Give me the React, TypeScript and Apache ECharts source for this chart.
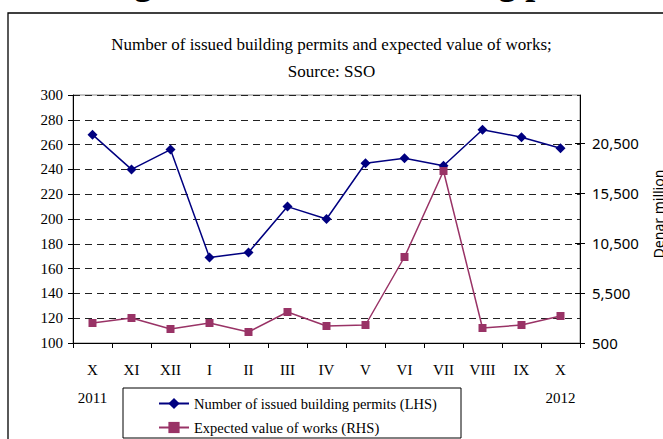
import React, { useEffect, useRef } from "react";
import * as echarts from "echarts";

const months = ["X", "XI", "XII", "I", "II", "III", "IV", "V", "VI", "VII", "VIII", "IX", "X"];
const years = ["2011", "", "", "", "", "", "", "", "", "", "", "", "2012"];
const permits = [268, 240, 256, 169, 173, 210, 200, 245, 249, 243, 272, 266, 257];
const worksValue = [2500, 3000, 1900, 2500, 1600, 3600, 2200, 2300, 9100, 17700, 2000, 2300, 3200];
const rightTicks = [500, 5500, 10500, 15500, 20500];

const titleText = "Number of issued building permits and expected value of works;";
const subTitleText = "Source: SSO";
const headingText = "4, Building and the issued building permits";

const serif = '"Liberation Serif", "Times New Roman", serif';
const sans = '"Noto Sans", "DejaVu Sans", sans-serif';

export default function App() {
  const ref = useRef<HTMLDivElement>(null);
  useEffect(() => {
    document.body.style.margin = "0";
    const chart = echarts.init(ref.current!, null, { renderer: "svg" });
    const categories = months.map((m, i) => (years[i] ? m + "\n" + years[i] : m));
    chart.setOption({
      animation: false,
      backgroundColor: "#fff",
      title: {
        text: titleText,
        subtext: subTitleText,
        left: "center",
        top: 36,
        padding: 0,
        itemGap: 10,
        textStyle: { fontFamily: serif, fontSize: 17, fontWeight: "normal", color: "#000" },
        subtextStyle: { fontFamily: serif, fontSize: 17, color: "#000" },
      },
      grid: {
        left: 73,
        right: 83,
        top: 95,
        bottom: 96,
        show: true,
        borderColor: "#888",
        borderWidth: 1,
      },
      legend: {
        orient: "vertical",
        left: 158,
        top: 396,
        padding: 0,
        itemWidth: 30,
        itemHeight: 14,
        itemGap: 9,
        textStyle: { fontFamily: serif, fontSize: 14.5, color: "#000", lineHeight: 14 },
        data: ["Number of issued building permits (LHS)", "Expected value of works (RHS)"],
      },
      xAxis: {
        type: "category",
        data: categories,
        boundaryGap: true,
        axisLine: { lineStyle: { color: "#000", width: 1 } },
        axisTick: { show: true, length: 5, lineStyle: { color: "#000" } },
        axisLabel: {
          interval: 0,
          margin: 13,
          fontFamily: serif,
          fontSize: 15,
          color: "#000",
          lineHeight: 28,
        },
      },
      yAxis: [
        {
          type: "value",
          min: 100,
          max: 300,
          interval: 20,
          position: "left",
          axisLine: { show: true, lineStyle: { color: "#000", width: 1 } },
          axisTick: { show: true, length: 5, lineStyle: { color: "#000" } },
          axisLabel: { margin: 10, fontFamily: serif, fontSize: 15, color: "#000" },
          splitLine: { show: true, lineStyle: { color: "#222", width: 1, type: [7, 5] } },
        },
        {
          type: "value",
          min: 500,
          max: 25300,
          interval: 5000,
          position: "right",
          axisLine: { show: true, lineStyle: { color: "#000", width: 1 } },
          axisTick: { show: true, length: 5, lineStyle: { color: "#000" }, customValues: rightTicks },
          axisLabel: {
            margin: 12,
            fontFamily: sans,
            fontSize: 15,
            color: "#000",
            customValues: rightTicks,
            formatter: (v: number) => v.toLocaleString("en-US"),
          },
          splitLine: { show: false },
        },
        {
          type: "value",
          min: 500,
          max: 25300,
          interval: 5000,
          position: "right",
          axisLine: { show: false },
          axisTick: { show: true, inside: true, length: 5, lineStyle: { color: "#000" }, customValues: rightTicks },
          axisLabel: { show: false },
          splitLine: { show: false },
        },
      ],
      series: [
        {
          name: "Number of issued building permits (LHS)",
          type: "line",
          yAxisIndex: 0,
          data: permits,
          symbol: "diamond",
          symbolSize: 10,
          lineStyle: { color: "#000080", width: 1.5 },
          itemStyle: { color: "#000080" },
        },
        {
          name: "Expected value of works (RHS)",
          type: "line",
          yAxisIndex: 1,
          data: worksValue,
          symbol: "rect",
          symbolSize: 8,
          lineStyle: { color: "#993366", width: 1.5 },
          itemStyle: { color: "#993366" },
        },
      ],
      graphic: [
        {
          type: "rect",
          shape: { x: 8, y: 13, width: 720, height: 500 },
          style: { fill: "none", stroke: "#000", lineWidth: 1.3 },
          silent: true,
        },
        {
          type: "rect",
          shape: { x: 123, y: 388, width: 338, height: 50 },
          style: { fill: "none", stroke: "#000", lineWidth: 1 },
          silent: true,
        },
        {
          type: "text",
          x: 658.5,
          y: 214,
          rotation: Math.PI / 2,
          style: {
            text: "Denar million",
            font: '14px "Noto Sans", "DejaVu Sans", sans-serif',
            fill: "#000",
            align: "center",
            verticalAlign: "middle",
          },
        },
        {
          type: "text",
          x: -16,
          y: 0,
          style: {
            text: headingText,
            font: 'bold 36px "Liberation Serif", serif',
            fill: "#000",
            align: "left",
            verticalAlign: "bottom",
          },
        },
      ],
    });
    return () => chart.dispose();
  }, []);
  return <div ref={ref} style={{ width: 663, height: 439 }} />;
}
